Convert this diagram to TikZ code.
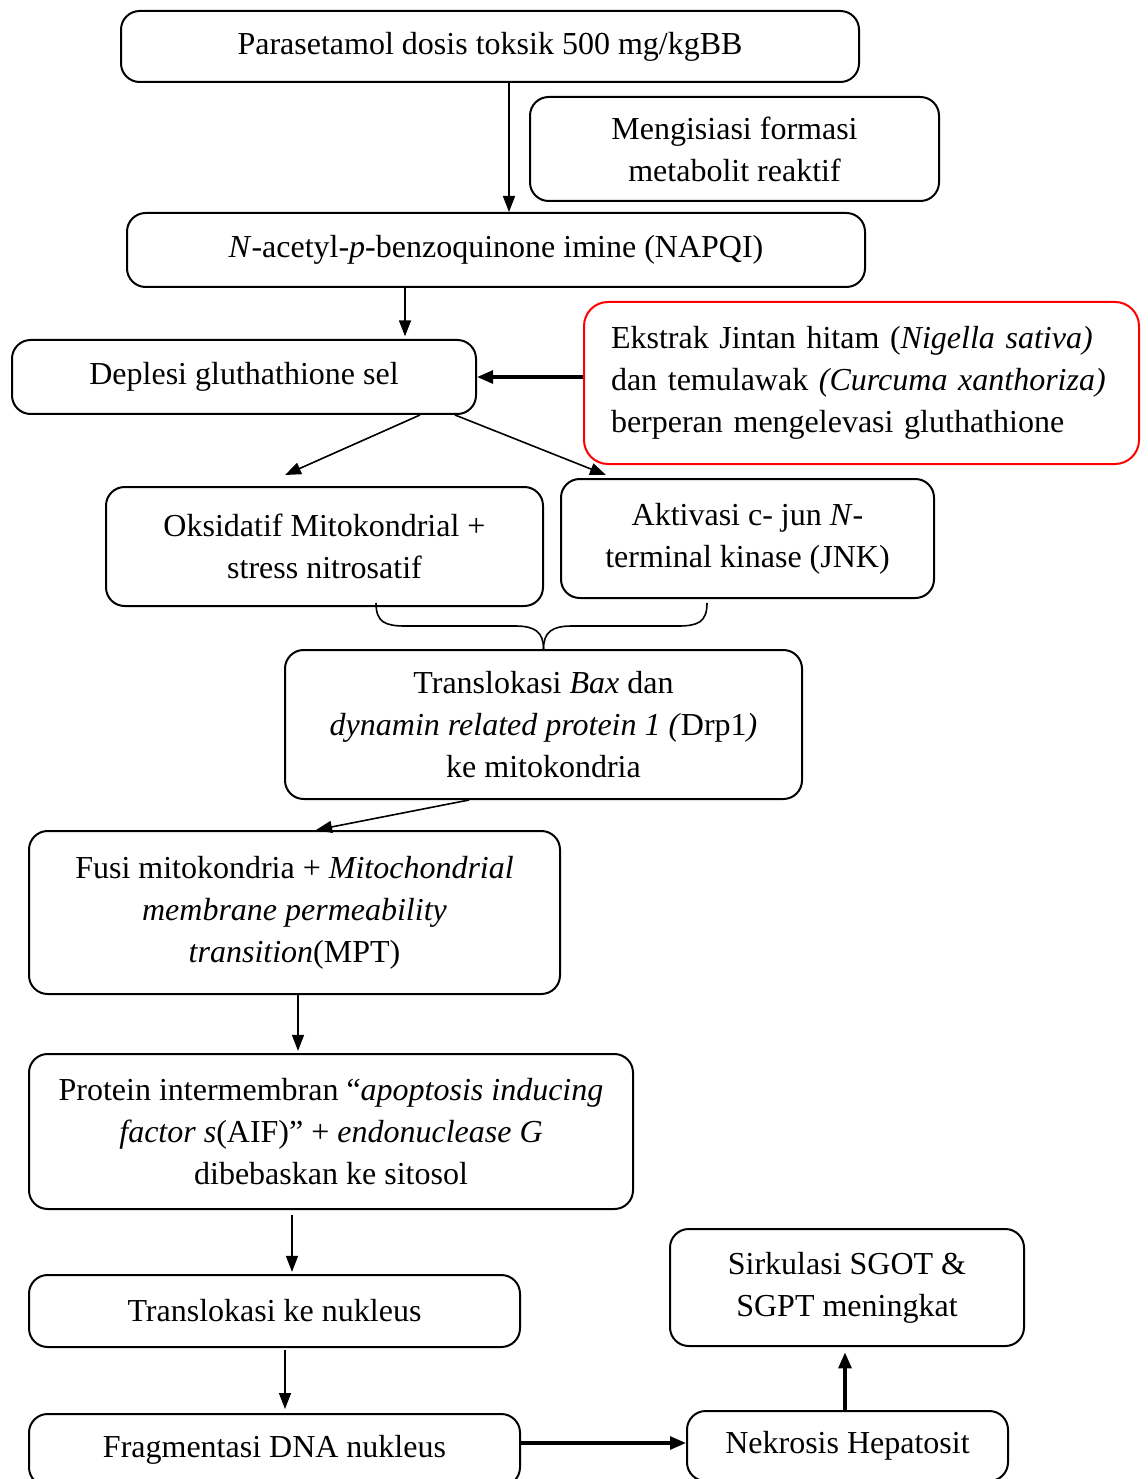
\documentclass[tikz,border=0pt]{standalone}
\usepackage{fontspec}
\setmainfont{Liberation Serif}
\usetikzlibrary{arrows.meta}
\newcommand\pxl[1]{#1*0.375pt}
\begin{document}
\begin{tikzpicture}[x=0.375pt,y=-0.375pt,
  box/.style={draw, line width=0.75pt, rounded corners=7pt, align=center, inner sep=0pt,
    font=\fontsize{12}{15.8}\selectfont},
  arr/.style={-{Triangle[length=6pt,width=4.5pt]}, line width=0.6pt},
  thickarr/.style={-{Triangle[length=6pt,width=4.8pt]}, line width=1.3pt}]
\useasboundingbox (0,0) rectangle (1147,1479);
\clip (0,0) rectangle (1147,1479);

\node[box, minimum width=\pxl{738}, minimum height=\pxl{71}] (par) at (490,46.5)
  {Parasetamol dosis toksik 500 mg/kgBB};
\node[box, minimum width=\pxl{409}, minimum height=\pxl{104}] (meng) at (734.5,149)
  {Mengisiasi formasi\\metabolit reaktif};
\node[box, minimum width=\pxl{738}, minimum height=\pxl{74}] (napqi) at (496,250)
  {\textit{N}-acetyl-\textit{p}-benzoquinone imine (NAPQI)};
\node[box, minimum width=\pxl{464}, minimum height=\pxl{74}] (depl) at (244,377)
  {Deplesi gluthathione sel};
\node[box, draw=red, align=left, text width=\pxl{501}, inner xsep=\pxl{27},
  minimum width=\pxl{555}, minimum height=\pxl{162}, rounded corners=9pt] (ext) at (861.5,383)
  {Ekstrak Jintan hitam (\textit{Nigella sativa)}\\
   dan temulawak \textit{(Curcuma xanthoriza)}\\
   berperan mengelevasi gluthathione};
\node[box, minimum width=\pxl{437}, minimum height=\pxl{119}] (oks) at (324.5,546.5)
  {Oksidatif Mitokondrial +\\stress nitrosatif};
\node[box, minimum width=\pxl{373}, minimum height=\pxl{119}] (akt) at (747.5,538.5)
  {Aktivasi c- jun \textit{N}-\\terminal kinase (JNK)};
\node[box, minimum width=\pxl{517}, minimum height=\pxl{149}] (bax) at (543.5,724.5)
  {Translokasi \textit{Bax} dan\\
   \textit{dynamin related protein 1 (}Drp1\textit{)}\\
   ke mitokondria};
\node[box, minimum width=\pxl{531}, minimum height=\pxl{163}] (fusi) at (294.5,912.5)
  {Fusi mitokondria + \textit{Mitochondrial}\\
   \textit{membrane permeability}\\
   \textit{transition}(MPT)};
\node[box, minimum width=\pxl{604}, minimum height=\pxl{155}] (prot) at (331,1131.5)
  {Protein intermembran “\textit{apoptosis inducing}\\
   \textit{factor s}(AIF)” + \textit{endonuclease G}\\
   dibebaskan ke sitosol};
\node[box, minimum width=\pxl{491}, minimum height=\pxl{72}] (trn) at (274.5,1311)
  {Translokasi ke nukleus};
\node[box, minimum width=\pxl{491}, minimum height=\pxl{72}] (frag) at (274.5,1450)
  {Fragmentasi DNA nukleus};
\node[box, minimum width=\pxl{321}, minimum height=\pxl{70}] (nek) at (847.5,1446)
  {Nekrosis Hepatosit};
\node[box, minimum width=\pxl{354}, minimum height=\pxl{117}] (sirk) at (847,1287.5)
  {Sirkulasi SGOT \&\\SGPT meningkat};

% helper coordinates
\coordinate (x509) at (509,0);
\coordinate (x405) at (405,0);
\coordinate (y377) at (0,377);
\coordinate (d1) at (420,0);
\coordinate (d2) at (455,0);
\coordinate (t1) at (285,475);
\coordinate (t2) at (606,475);
\coordinate (b1) at (469,0);
\coordinate (f1) at (316,830);
\coordinate (x298) at (298,0);
\coordinate (x292) at (292,0);
\coordinate (x285) at (285,0);
\coordinate (y1443) at (0,1443);
\coordinate (x845) at (845,0);
\coordinate (bl) at (376,603);
\coordinate (br) at (707,603);

\draw[arr] (x509 |- par.south) -- (x509 |- napqi.north);
\draw[arr] (x405 |- napqi.south) -- ([yshift=1pt]x405 |- depl.north);
\draw[thickarr] (ext.west |- y377) -- (depl.east |- y377);
\draw[arr] (d1 |- depl.south) -- (t1);
\draw[arr] (d2 |- depl.south) -- (t2);

% brace
\draw[line width=0.6pt] (bl) .. controls (376,622) and (385,626) .. (405,626) -- (515,626)
  .. controls (535,626) and (543.5,632) .. (bax.north);
\draw[line width=0.6pt] (br) .. controls (707,622) and (698,626) .. (678,626) -- (572,626)
  .. controls (552,626) and (543.5,632) .. (bax.north);

\draw[arr] (b1 |- bax.south) -- (f1);
\draw[arr] (x298 |- fusi.south) -- ([yshift=0.8pt]x298 |- prot.north);
\draw[arr] ([yshift=-1.9pt]x292 |- prot.south) -- ([yshift=0.8pt]x292 |- trn.north);
\draw[arr] ([yshift=-0.8pt]x285 |- trn.south) -- ([yshift=1.5pt]x285 |- frag.north);
\draw[thickarr] (frag.east |- y1443) -- (nek.west |- y1443);
\draw[thickarr] (x845 |- nek.north) -- ([yshift=-2pt]x845 |- sirk.south);
\end{tikzpicture}
\end{document}
